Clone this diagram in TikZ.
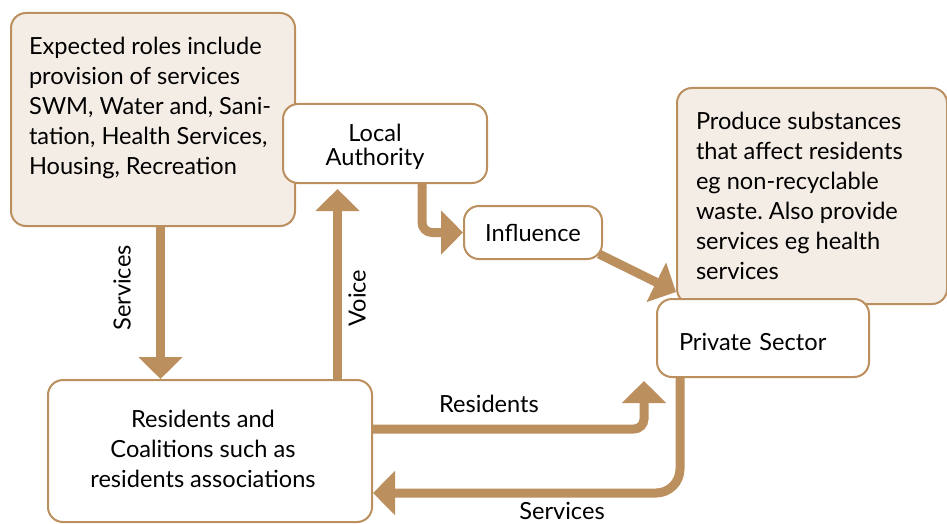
\documentclass[tikz,border=0pt]{standalone}
\usepackage{fontspec}
\setmainfont{Lato}
\usetikzlibrary{arrows.meta, calc}
\frenchspacing

\definecolor{tan}{RGB}{187,143,94}
\definecolor{beige}{RGB}{244,237,230}

\tikzset{
    box/.style={draw=tan, line width=1pt, rounded corners=7.5pt, fill=white},
    notebox/.style={box, fill=beige, anchor=north west, inner xsep=9pt, inner ysep=0pt},
    flow/.style={draw=tan, line width=4.5pt, -{Triangle[width=21.5pt,length=11pt]}},
    lbl/.style={inner sep=0pt}
}

\begin{document}
\begin{tikzpicture}[x=0.5pt, y=-0.5pt, font=\fontsize{11.8pt}{15pt}\selectfont]
    \useasboundingbox (0,0) rectangle (947,524);

    % notes
    \node[notebox] (roles) at (10,12) {\parbox[t][106.5pt][t]{124pt}{\vspace{12pt}%
        Expected roles include\\
        provision of services\\
        SWM, Water and, Sani-\\
        tation, Health Services,\\
        Housing, Recreation}};
    \node[notebox, inner xsep=9.5pt] (subst) at (676,87) {\parbox[t][108pt][t]{116pt}{\vspace{12pt}%
        Produce substances\\
        that affect residents\\
        eg non-recyclable\\
        waste. Also provide\\
        services eg health\\
        services}};

    % actors
    \node[box, minimum width=102pt, minimum height=39.5pt, font=\fontsize{11.8pt}{12pt}\selectfont] (la) at (385,143.5)
        {\raisebox{-2.5pt}[\height][\depth]{\begin{tabular}{@{}c@{}}Local\\Authority\end{tabular}}\hspace*{10pt}};
    \node[box, minimum width=69pt, minimum height=26.5pt] (inf) at (533,232.5) {Influence};
    \node[box, minimum width=106pt, minimum height=39pt, text width=84pt, inner xsep=11pt,
          align=left, text height=12pt, text depth=0pt] (ps) at (763,338) {Private Sector};
    \node[box, minimum width=162pt, minimum height=71pt] (res) at (210,451)
        {\begin{tabular}{@{}c@{}}Residents and\\Coalitions such as\\residents associations\end{tabular}\hspace*{7pt}};

    % flows
    \draw[flow] ([xshift=3.75pt]roles.south) -- ([xshift=3.75pt]roles.south |- res.north);
    \draw[flow, shorten >=2.5pt] ([xshift=-17.75pt]res.north east) -- ([xshift=-17.75pt]res.north east |- la.south);
    \draw[flow, rounded corners=5pt] ([xshift=18.5pt]la.south) |- (inf.west);
    \draw[flow] ([xshift=-2pt,yshift=3pt]inf.south east) -- ([xshift=10pt,yshift=3pt]ps.north west);
    \draw[flow, rounded corners=5pt, shorten >=1.5pt] ([yshift=11pt]res.east) -| ([xshift=-6pt]ps.south west);
    \draw[flow, rounded corners=12pt] ([xshift=12pt]ps.south west) |- ([yshift=-21pt]res.east);

    % labels
    \node[lbl, rotate=90] (lservices) at (122,288) {Services};
    \node[lbl, rotate=90] (lvoice) at (357,298) {Voice};
    \node[lbl] (lresidents) at (489,404) {Residents};
    \node[lbl] (lservices2) at (562,511) {Services};
\end{tikzpicture}
\end{document}
